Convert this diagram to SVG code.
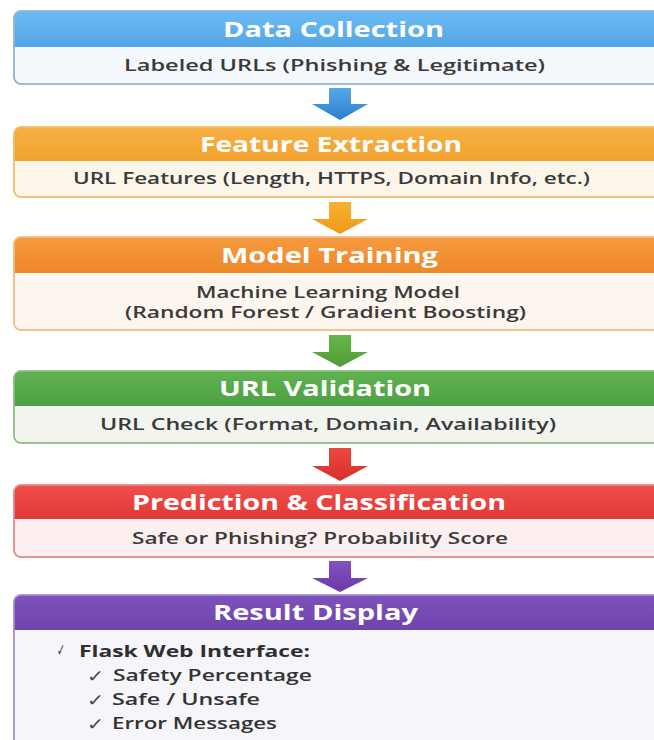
<svg xmlns="http://www.w3.org/2000/svg" width="654" height="740" viewBox="0 0 654 740">
<style>
.hd{font-family:"Open Sans","Liberation Sans",sans-serif;font-weight:700;font-size:21px;fill:#ffffff;}
.bd{font-family:"Open Sans","Liberation Sans",sans-serif;font-weight:600;font-size:16px;fill:#3a3a3a;}
.li{font-family:"Open Sans","Liberation Sans",sans-serif;font-weight:600;font-size:16.5px;fill:#333333;}
.lb{font-family:"Open Sans","Liberation Sans",sans-serif;font-weight:700;font-size:16.5px;fill:#2e2e2e;}
.ck{font-family:"DejaVu Sans",sans-serif;font-size:17px;fill:#444444;}
.box{stroke-width:1.5;}
</style>
<defs>
<linearGradient id="gBlue" x1="0" y1="0" x2="0" y2="1"><stop offset="0" stop-color="#6dbbf3"/><stop offset="1" stop-color="#52a6e6"/></linearGradient>
<linearGradient id="gAmber" x1="0" y1="0" x2="0" y2="1"><stop offset="0" stop-color="#f7b043"/><stop offset="1" stop-color="#f2a22e"/></linearGradient>
<linearGradient id="gOrange" x1="0" y1="0" x2="0" y2="1"><stop offset="0" stop-color="#f69a40"/><stop offset="1" stop-color="#ef8728"/></linearGradient>
<linearGradient id="gGreen" x1="0" y1="0" x2="0" y2="1"><stop offset="0" stop-color="#5fb351"/><stop offset="1" stop-color="#4e9f42"/></linearGradient>
<linearGradient id="gRed" x1="0" y1="0" x2="0" y2="1"><stop offset="0" stop-color="#ee4f4b"/><stop offset="1" stop-color="#e33936"/></linearGradient>
<linearGradient id="gPurple" x1="0" y1="0" x2="0" y2="1"><stop offset="0" stop-color="#7e52ba"/><stop offset="1" stop-color="#6f44ac"/></linearGradient>
<linearGradient id="aBlue" x1="0" y1="0" x2="0" y2="1"><stop offset="0" stop-color="#56a8ea"/><stop offset="1" stop-color="#2d7dca"/></linearGradient>
<linearGradient id="aAmber" x1="0" y1="0" x2="0" y2="1"><stop offset="0" stop-color="#f8b030"/><stop offset="1" stop-color="#f0991a"/></linearGradient>
<linearGradient id="aGreen" x1="0" y1="0" x2="0" y2="1"><stop offset="0" stop-color="#68b649"/><stop offset="1" stop-color="#4e9c35"/></linearGradient>
<linearGradient id="aRed" x1="0" y1="0" x2="0" y2="1"><stop offset="0" stop-color="#ec4742"/><stop offset="1" stop-color="#d62f2b"/></linearGradient>
<linearGradient id="aPurple" x1="0" y1="0" x2="0" y2="1"><stop offset="0" stop-color="#8152c0"/><stop offset="1" stop-color="#6a3aa8"/></linearGradient>
</defs>
<rect x="0" y="0" width="654" height="740" fill="#ffffff"/>

<g id="data-collection">
<rect class="box" x="14" y="11" width="660" height="73" rx="7" fill="#f4f7fb" stroke="#96b6d4"/>
<path d="M14,47 V18 Q14,11 21,11 H674 V47 Z" fill="url(#gBlue)"/>
<rect x="14" y="11" width="660" height="73" rx="7" fill="none" stroke="#96b6d4" stroke-width="1.5"/>
<text class="hd" x="223" y="36.5" textLength="221" lengthAdjust="spacingAndGlyphs">Data Collection</text>
<text class="bd" x="124" y="71" textLength="421" lengthAdjust="spacingAndGlyphs">Labeled URLs (Phishing &amp; Legitimate)</text>
</g>

<g id="feature-extraction">
<rect class="box" x="14" y="127" width="660" height="70" rx="7" fill="#fcf6ea" stroke="#efc070"/>
<path d="M14,161 V134 Q14,127 21,127 H674 V161 Z" fill="url(#gAmber)"/>
<rect x="14" y="127" width="660" height="70" rx="7" fill="none" stroke="#efc070" stroke-width="1.5"/>
<text class="hd" x="200" y="151.5" textLength="262" lengthAdjust="spacingAndGlyphs">Feature Extraction</text>
<text class="bd" x="73" y="184" textLength="517" lengthAdjust="spacingAndGlyphs">URL Features (Length, HTTPS, Domain Info, etc.)</text>
</g>

<g id="model-training">
<rect class="box" x="14" y="237" width="660" height="93" rx="7" fill="#fdf6ef" stroke="#f0c08a"/>
<path d="M14,273 V244 Q14,237 21,237 H674 V273 Z" fill="url(#gOrange)"/>
<rect x="14" y="237" width="660" height="93" rx="7" fill="none" stroke="#f0c08a" stroke-width="1.5"/>
<text class="hd" x="221" y="262.5" textLength="217" lengthAdjust="spacingAndGlyphs">Model Training</text>
<text class="bd" x="196" y="298" textLength="264" lengthAdjust="spacingAndGlyphs">Machine Learning Model</text>
<text class="bd" x="125" y="318" textLength="401" lengthAdjust="spacingAndGlyphs">(Random Forest / Gradient Boosting)</text>
</g>

<g id="url-validation">
<rect class="box" x="14" y="371" width="660" height="72" rx="7" fill="#f2f4f0" stroke="#92c08a"/>
<path d="M14,406 V378 Q14,371 21,371 H674 V406 Z" fill="url(#gGreen)"/>
<rect x="14" y="371" width="660" height="72" rx="7" fill="none" stroke="#92c08a" stroke-width="1.5"/>
<text class="hd" x="219" y="396" textLength="212" lengthAdjust="spacingAndGlyphs">URL Validation</text>
<text class="bd" x="100" y="430" textLength="456" lengthAdjust="spacingAndGlyphs">URL Check (Format, Domain, Availability)</text>
</g>

<g id="prediction-classification">
<rect class="box" x="14" y="485" width="660" height="72" rx="7" fill="#fbefef" stroke="#e28e8e"/>
<path d="M14,519 V492 Q14,485 21,485 H674 V519 Z" fill="url(#gRed)"/>
<rect x="14" y="485" width="660" height="72" rx="7" fill="none" stroke="#e28e8e" stroke-width="1.5"/>
<text class="hd" x="132" y="509.5" textLength="374" lengthAdjust="spacingAndGlyphs">Prediction &amp; Classification</text>
<text class="bd" x="132" y="543.5" textLength="376" lengthAdjust="spacingAndGlyphs">Safe or Phishing? Probability Score</text>
</g>

<g id="result-display">
<rect class="box" x="14" y="595" width="660" height="170" rx="7" fill="#f6f5fa" stroke="#a992cf"/>
<path d="M14,630 V602 Q14,595 21,595 H674 V630 Z" fill="url(#gPurple)"/>
<rect x="14" y="595" width="660" height="170" rx="7" fill="none" stroke="#a992cf" stroke-width="1.5"/>
<text class="hd" x="213" y="620" textLength="205" lengthAdjust="spacingAndGlyphs">Result Display</text>
<text class="ck" x="57" y="656" font-size="9" textLength="8" lengthAdjust="spacingAndGlyphs">✓</text>
<text class="lb" x="79" y="657" textLength="231" lengthAdjust="spacingAndGlyphs">Flask Web Interface:</text>
<text class="ck" x="87" y="682" textLength="17" lengthAdjust="spacingAndGlyphs">✓</text>
<text class="li" x="113" y="681" textLength="199" lengthAdjust="spacingAndGlyphs">Safety Percentage</text>
<text class="ck" x="87" y="706" textLength="17" lengthAdjust="spacingAndGlyphs">✓</text>
<text class="li" x="112" y="705" textLength="148" lengthAdjust="spacingAndGlyphs">Safe / Unsafe</text>
<text class="ck" x="87" y="730" textLength="17" lengthAdjust="spacingAndGlyphs">✓</text>
<text class="li" x="112" y="729" textLength="165" lengthAdjust="spacingAndGlyphs">Error Messages</text>
</g>

<g id="connectors">
<path d="M329,88 H351 V104 H368 L340,120 L312,104 H329 Z" fill="url(#aBlue)"/>
<path d="M329,202 H351 V219 H368 L340,234 L312,219 H329 Z" fill="url(#aAmber)"/>
<path d="M329,335 H351 V352 H368 L340,367 L312,352 H329 Z" fill="url(#aGreen)"/>
<path d="M329,448 H351 V466 H368 L340,481 L312,466 H329 Z" fill="url(#aRed)"/>
<path d="M329,561 H351 V578 H368 L340,592 L312,578 H329 Z" fill="url(#aPurple)"/>
</g>
</svg>
